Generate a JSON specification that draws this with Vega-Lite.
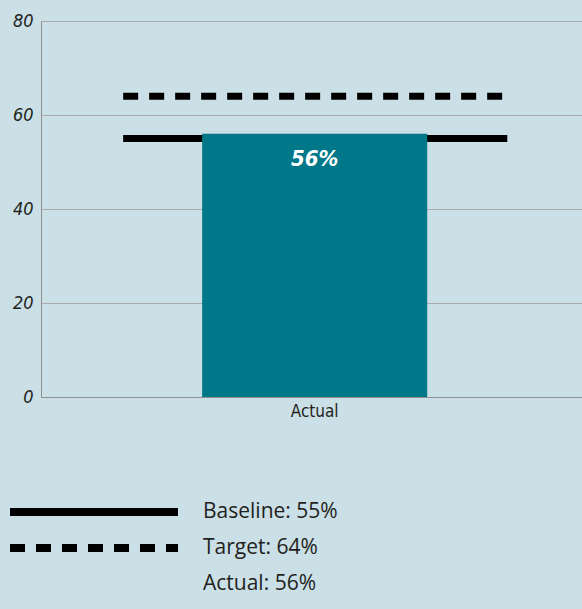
{
  "$schema": "https://vega.github.io/schema/vega-lite/v6.json",
  "width": 541,
  "height": 376,
  "autosize": {"type": "none"},
  "padding": {"left": 41, "top": 21, "right": 0, "bottom": 212},
  "background": "#cadfe6",
  "config": {
    "view": {"stroke": null},
    "font": "Open Sans",
    "axis": {
      "ticks": false,
      "title": null,
      "domainColor": "#8f8f8f",
      "gridColor": "#a9a9a9",
      "labelColor": "#231f20",
      "labelFont": "DejaVu Sans Condensed, Liberation Sans, sans-serif"
    }
  },
  "datasets": {
    "actual": [{"category": "Actual", "value": 56, "label": "56%"}],
    "lines": [
      {"category": "Actual", "series": "Baseline: 55%", "value": 55},
      {"category": "Actual", "series": "Target: 64%", "value": 64}
    ]
  },
  "layer": [
    {
      "data": {"name": "lines"},
      "mark": {"type": "rule", "strokeWidth": 7, "color": "black", "strokeCap": "butt"},
      "encoding": {
        "x": {
          "field": "category",
          "type": "nominal",
          "bandPosition": -0.351,
          "scale": {"paddingInner": 0, "paddingOuter": 0.702, "align": 0.51},
          "axis": {"labelAngle": 0, "labelFontSize": 17, "labelPadding": 6, "grid": false}
        },
        "x2": {"field": "category", "bandPosition": 1.356},
        "y": {
          "field": "value",
          "type": "quantitative",
          "scale": {"domain": [0, 80]},
          "axis": {
            "values": [0, 20, 40, 60, 80],
            "labelFontSize": 18,
            "labelFontStyle": "italic",
            "labelPadding": 8,
            "grid": true
          }
        },
        "strokeDash": {
          "field": "series",
          "type": "nominal",
          "scale": {
            "domain": ["Baseline: 55%", "Target: 64%", "Actual: 56%"],
            "range": [[1, 0], [15, 11], [0, 1000]]
          },
          "legend": {
            "title": null,
            "orient": "none",
            "legendX": -35,
            "legendY": 480,
            "padding": 0,
            "direction": "vertical",
            "clipHeight": 22,
            "symbolType": "stroke",
            "symbolSize": 28224,
            "symbolStrokeWidth": 8,
            "symbolStrokeColor": "black",
            "labelFont": "Open Sans",
            "labelFontSize": 21,
            "labelColor": "#231f20",
            "labelOffset": 21,
            "labelLimit": 400,
            "rowPadding": 14
          }
        }
      }
    },
    {
      "data": {"name": "actual"},
      "mark": {"type": "bar", "color": "#007889"},
      "encoding": {
        "x": {"field": "category", "type": "nominal"},
        "y": {"field": "value", "type": "quantitative"}
      }
    },
    {
      "data": {"name": "actual"},
      "mark": {
        "type": "text",
        "color": "white",
        "fontSize": 22,
        "fontWeight": "bold",
        "fontStyle": "italic",
        "font": "DejaVu Sans Condensed, Liberation Sans, sans-serif",
        "baseline": "middle",
        "dy": 25
      },
      "encoding": {
        "x": {"field": "category", "type": "nominal"},
        "y": {"field": "value", "type": "quantitative"},
        "text": {"field": "label"}
      }
    }
  ]
}
